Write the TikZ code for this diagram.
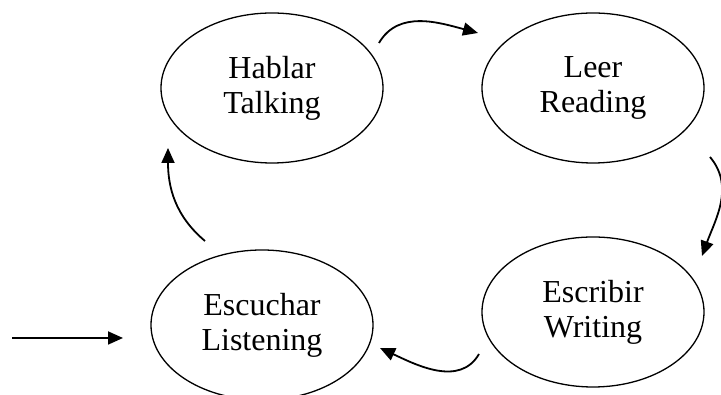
\documentclass[tikz,border=0pt]{standalone}
\usepackage{fontspec}
\setmainfont{Liberation Serif}
\usetikzlibrary{shapes.geometric,arrows.meta}

\begin{document}
\begin{tikzpicture}[x=1pt, y=1pt,
ellSkill/.style={ellipse, draw=black, line width=1.3pt, minimum width=222pt, minimum height=150pt, inner sep=0pt, align=center, font=\fontsize{32}{35}\selectfont},
arrowCycle/.style={line width=1.8pt, -{Triangle[length=15pt, width=13pt]}}
]

\useasboundingbox (0, 0) rectangle (721, 395);

\node[ellSkill] (talking) at (272, 307) {Hablar\\Talking};
\node[ellSkill] (reading) at (593, 307) {Leer\\Reading};
\node[ellSkill] (writing) at (593, 83) {Escribir\\Writing};
\node[ellSkill] (listening) at (262, 70) {Escuchar\\Listening};


\coordinate (talkingOut) at (379, 352);
\coordinate (readingIn) at (478, 362);
\coordinate (readingOut) at (710, 238);
\coordinate (writingIn) at (702, 139);
\coordinate (writingOut) at (479, 41);
\coordinate (listeningIn) at (380, 47);
\coordinate (listeningOut) at (205, 154);
\coordinate (talkingIn) at (168, 247);
\coordinate (entry) at (12, 57);
\coordinate (entryIn) at (123, 57);



\path[arrowCycle] 	(talkingOut) 		edge[out=60, in=165] 		node {} (readingIn)
			(readingOut) 		edge[out=-50, in=70] 		node {} (writingIn)
			(writingOut) 		edge[out=-120, in=-25] 		node {} (listeningIn)
			(listeningOut) 		edge[out=140, in=-90] 		node {} (talkingIn)
			(entry) 			edge 						node {} (entryIn);



\end{tikzpicture}
\end{document}
